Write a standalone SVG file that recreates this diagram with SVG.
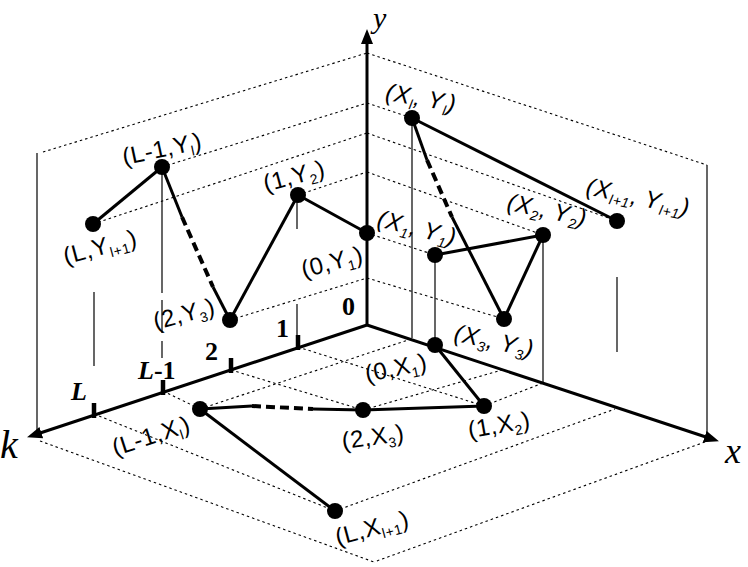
<svg xmlns="http://www.w3.org/2000/svg" width="748" height="567" viewBox="0 0 748 567">
<style>
.dot{stroke:#000;stroke-width:1.1;stroke-dasharray:2.5 3;fill:none}
.thin{stroke:#000;stroke-width:1.2;fill:none}
.axis{stroke:#000;stroke-width:3;fill:none}
.tick{stroke:#000;stroke-width:4.5}
.conn{stroke:#000;stroke-width:3;fill:none}
.dash{stroke:#000;stroke-width:4;stroke-dasharray:9 5;fill:none}
.pt{fill:#000}
.lbl{font-family:"Liberation Sans","DejaVu Sans",sans-serif;font-size:24px;text-anchor:middle;fill:#000;letter-spacing:0.5px}
.it{font-style:italic}
.sub{font-size:14px}
.tl{font-family:"Liberation Serif","DejaVu Serif",serif;font-size:26px;font-weight:bold;fill:#000}
.ax{font-family:"Liberation Serif","DejaVu Serif",serif;font-style:italic;fill:#000}
</style>
<defs>
<marker id="arr" markerUnits="userSpaceOnUse" markerWidth="16" markerHeight="14" refX="6" refY="6" orient="auto">
<path d="M0,0 L15,6 L0,12 z" fill="#000"/>
</marker>
</defs>
<rect width="748" height="567" fill="#fff"/>
<g id="guides">
<line class="thin" x1="37" y1="153" x2="37" y2="430"/>
<line class="thin" x1="707" y1="165" x2="707" y2="438"/>
<line class="dot" x1="43" y1="152" x2="367" y2="53"/>
<line class="dot" x1="162" y1="167" x2="367" y2="103"/>
<line class="dot" x1="93" y1="224" x2="367" y2="133"/>
<line class="dot" x1="298" y1="195" x2="367" y2="172"/>
<line class="dot" x1="230" y1="320" x2="367" y2="278"/>
<line class="dot" x1="367" y1="53" x2="707" y2="165"/>
<line class="dot" x1="367" y1="103" x2="412" y2="118"/>
<line class="dot" x1="367" y1="133" x2="617" y2="221"/>
<line class="dot" x1="367" y1="172" x2="543" y2="235"/>
<line class="dot" x1="367" y1="233" x2="435" y2="255"/>
<line class="dot" x1="367" y1="278" x2="504" y2="319"/>
<line class="dot" x1="40" y1="441" x2="374" y2="562"/>
<line class="dot" x1="705" y1="442" x2="374" y2="562"/>
<line class="dot" x1="94" y1="414" x2="335" y2="511"/>
<line class="dot" x1="335" y1="511" x2="615" y2="409"/>
<line class="dot" x1="163" y1="391" x2="200" y2="409"/>
<line class="dot" x1="200" y1="409" x2="411" y2="339"/>
<line class="dot" x1="231" y1="370" x2="363" y2="410"/>
<line class="dot" x1="363" y1="410" x2="502" y2="370"/>
<line class="dot" x1="298" y1="347" x2="484" y2="406"/>
<line class="dot" x1="484" y1="406" x2="543" y2="383"/>
<line class="thin" x1="162" y1="167" x2="162" y2="293"/>
<line class="thin" x1="162" y1="300" x2="162" y2="333"/>
<line class="thin" x1="162" y1="341" x2="162" y2="358"/>
<line class="thin" x1="94" y1="292" x2="94" y2="366"/>
<line class="thin" x1="297" y1="197" x2="297" y2="229"/>
<line class="thin" x1="297" y1="304" x2="297" y2="340"/>
<line class="thin" x1="412" y1="118" x2="412" y2="338"/>
<line class="thin" x1="435" y1="255" x2="435" y2="345"/>
<line class="thin" x1="543" y1="235" x2="543" y2="383"/>
<line class="thin" x1="617" y1="277" x2="617" y2="352"/>
</g>
<g id="axes">
<line class="axis" x1="367" y1="325" x2="367" y2="38" marker-end="url(#arr)"/>
<line class="axis" x1="367" y1="325" x2="35.6" y2="434.5" marker-end="url(#arr)"/>
<line class="axis" x1="367" y1="325" x2="710.4" y2="438.5" marker-end="url(#arr)"/>
<line class="tick" x1="298" y1="335" x2="298" y2="350"/>
<line class="tick" x1="231" y1="358" x2="231" y2="373"/>
<line class="tick" x1="163" y1="380" x2="163" y2="395"/>
<line class="tick" x1="94" y1="403" x2="94" y2="418"/>
<text class="ax" x="373" y="28" font-size="30">y</text>
<text class="ax" x="0" y="458" font-size="40">k</text>
<text class="ax" x="725" y="463" font-size="36">x</text>
<text class="tl" x="342" y="315">0</text>
<text class="tl" x="276" y="337">1</text>
<text class="tl" x="205" y="360">2</text>
<text class="tl" x="138" y="379"><tspan font-style="italic">L</tspan>-1</text>
<text class="tl" x="71" y="400" font-style="italic">L</text>
</g>
<g id="connectors">
<line class="conn" x1="93" y1="224" x2="162" y2="167"/>
<line class="conn" x1="162" y1="167" x2="182" y2="217"/>
<line class="dash" x1="182" y1="217" x2="213" y2="287"/>
<line class="conn" x1="213" y1="287" x2="230" y2="320"/>
<line class="conn" x1="230" y1="320" x2="298" y2="195"/>
<line class="conn" x1="298" y1="195" x2="367" y2="233"/>
<line class="conn" x1="412" y1="118" x2="617" y2="221"/>
<line class="conn" x1="412" y1="118" x2="427" y2="160"/>
<line class="dash" x1="427" y1="160" x2="452" y2="217"/>
<line class="conn" x1="452" y1="217" x2="504" y2="319"/>
<line class="conn" x1="504" y1="319" x2="543" y2="235"/>
<line class="conn" x1="543" y1="235" x2="435" y2="255"/>
<line class="conn" x1="335" y1="511" x2="200" y2="409"/>
<line class="conn" x1="200" y1="409" x2="252" y2="406"/>
<line class="dash" x1="252" y1="406" x2="313" y2="409"/>
<line class="conn" x1="313" y1="409" x2="363" y2="410"/>
<line class="conn" x1="363" y1="410" x2="484" y2="406"/>
<line class="conn" x1="484" y1="406" x2="435" y2="345"/>
</g>
<g id="n-L-Yl1"><circle class="pt" cx="93" cy="224" r="8"/><text class="lbl" x="100" y="255" transform="rotate(-15 100 247)">(L,Y<tspan class="sub" dy="5">l+1</tspan><tspan dy="-5">)</tspan></text></g>
<g id="n-L1-Yl"><circle class="pt" cx="162" cy="167" r="8"/><text class="lbl" x="162" y="157" transform="rotate(-12 162 149)">(L-1,Y<tspan class="sub" dy="5">l</tspan><tspan dy="-5">)</tspan></text></g>
<g id="n-2-Y3"><circle class="pt" cx="230" cy="320" r="8"/><text class="lbl" x="184" y="322" transform="rotate(-15 184 314)">(2,Y<tspan class="sub" dy="5">3</tspan><tspan dy="-5">)</tspan></text></g>
<g id="n-1-Y2"><circle class="pt" cx="298" cy="195" r="8"/><text class="lbl" x="294" y="184" transform="rotate(-15 294 176)">(1,Y<tspan class="sub" dy="5">2</tspan><tspan dy="-5">)</tspan></text></g>
<g id="n-0-Y1"><circle class="pt" cx="367" cy="233" r="8"/><text class="lbl" x="332" y="270" transform="rotate(-15 332 262)">(0,Y<tspan class="sub" dy="5">1</tspan><tspan dy="-5">)</tspan></text></g>
<g id="n-Xl-Yl"><circle class="pt" cx="412" cy="118" r="8"/><text class="lbl it" x="421" y="106" transform="rotate(10 421 98)">(X<tspan class="sub" dy="5">l</tspan><tspan dy="-5">, Y</tspan><tspan class="sub" dy="5">l</tspan><tspan dy="-5">)</tspan></text></g>
<g id="n-Xl1-Yl1"><circle class="pt" cx="617" cy="221" r="8"/><text class="lbl it" x="638" y="205" transform="rotate(12 638 197)">(X<tspan class="sub" dy="5">l+1</tspan><tspan dy="-5">, Y</tspan><tspan class="sub" dy="5">l+1</tspan><tspan dy="-5">)</tspan></text></g>
<g id="n-X2-Y2"><circle class="pt" cx="543" cy="235" r="8"/><text class="lbl it" x="547" y="218" transform="rotate(12 547 210)">(X<tspan class="sub" dy="5">2</tspan><tspan dy="-5">, Y</tspan><tspan class="sub" dy="5">2</tspan><tspan dy="-5">)</tspan></text></g>
<g id="n-X1-Y1"><circle class="pt" cx="435" cy="255" r="8"/><text class="lbl it" x="417" y="236" transform="rotate(14 417 228)">(X<tspan class="sub" dy="5">1</tspan><tspan dy="-5">, Y</tspan><tspan class="sub" dy="5">1</tspan><tspan dy="-5">)</tspan></text></g>
<g id="n-X3-Y3"><circle class="pt" cx="504" cy="319" r="8"/><text class="lbl it" x="494" y="349" transform="rotate(12 494 341)">(X<tspan class="sub" dy="5">3</tspan><tspan dy="-5">, Y</tspan><tspan class="sub" dy="5">3</tspan><tspan dy="-5">)</tspan></text></g>
<g id="n-0-X1"><circle class="pt" cx="435" cy="345" r="8"/><text class="lbl" x="396" y="376" transform="rotate(-12 396 368)">(0,X<tspan class="sub" dy="5">1</tspan><tspan dy="-5">)</tspan></text></g>
<g id="n-1-X2"><circle class="pt" cx="484" cy="406" r="8"/><text class="lbl" x="499" y="433" transform="rotate(-10 499 425)">(1,X<tspan class="sub" dy="5">2</tspan><tspan dy="-5">)</tspan></text></g>
<g id="n-2-X3"><circle class="pt" cx="363" cy="410" r="8"/><text class="lbl" x="373" y="445" transform="rotate(-8 373 437)">(2,X<tspan class="sub" dy="5">3</tspan><tspan dy="-5">)</tspan></text></g>
<g id="n-L1-Xl"><circle class="pt" cx="200" cy="409" r="8"/><text class="lbl" x="151" y="444" transform="rotate(-18 151 436)">(L-1,X<tspan class="sub" dy="5">l</tspan><tspan dy="-5">)</tspan></text></g>
<g id="n-L-Xl1"><circle class="pt" cx="335" cy="511" r="8"/><text class="lbl" x="372" y="536" transform="rotate(-15 372 528)">(L,X<tspan class="sub" dy="5">l+1</tspan><tspan dy="-5">)</tspan></text></g>
</svg>
